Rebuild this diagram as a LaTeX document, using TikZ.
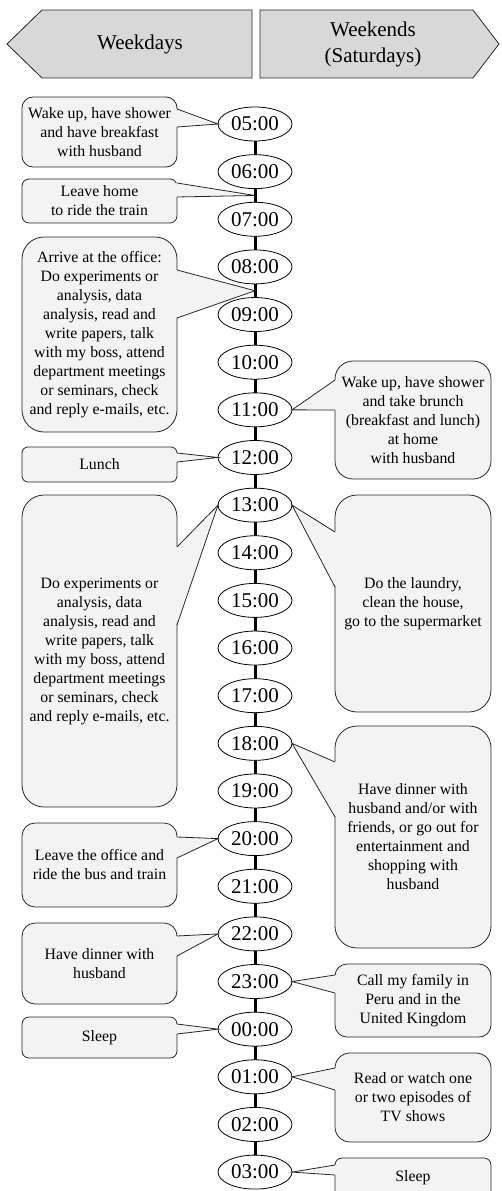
\documentclass[tikz,border=0pt]{standalone}
\usepackage{fontspec}
\setmainfont{Liberation Serif}
\usetikzlibrary{shapes.geometric,calc,backgrounds}
\definecolor{notegray}{RGB}{242,243,242}
\definecolor{headgray}{RGB}{216,216,216}
% tail of a callout: box corner, inward shift, top, bottom, target
\newcommand\calltail[5]{%
  \fill[notegray] ($(#1)+(#2,#3)$) -- (#5) -- ($(#1)+(#2,#4)$) -- cycle;
  \draw[tail] ($(#1)+(0,#3)$) -- (#5) -- ($(#1)+(0,#4)$);}

\begin{document}
\begin{tikzpicture}
  [x=1pt, y=-1pt,
   every node/.style={inner sep=0pt, outer sep=0pt},
   timebox/.style={draw, ellipse, fill=white, line width=0.8pt,
     minimum width=74pt, minimum height=34pt, font=\fontsize{21}{25}\selectfont},
   note/.style={draw=black!85, fill=notegray, line width=0.8pt, align=center,
     font=\fontsize{15.8}{19}\selectfont},
   weekday note/.style={note, minimum width=155pt},
   weekend note/.style={note, minimum width=156pt},
   tail/.style={draw=black!85, line width=0.8pt},
   head/.style={draw=black!85, fill=headgray, line width=0.8pt},
   headtext/.style={align=center, font=\fontsize{21}{26}\selectfont}]
  \useasboundingbox (0,0) rectangle (501,1191);

  \draw[head] (7,44) -- (42,10) -- (252,10) -- (252,78) -- (42,78) -- cycle;
  \draw[head] (260,10) -- (473,10) -- (499,44) -- (473,78) -- (260,78) -- cycle;
  \node[headtext] (weekdays) at (140,44) {Weekdays};
  \node[headtext] (weekends) at (373,44) {Weekends\\(Saturdays)};

  \foreach \h [count=\i from 0] in {05,06,07,08,09,10,11,12,13,14,15,16,17,18,19,20,21,22,23,00,01,02,03}
    \node[timebox] (t\h) at (255,{124+47.64*\i}) {\h:00};
  \begin{scope}[on background layer]
    \draw[line width=3pt] (t05.center) -- (t03.center);
  \end{scope}

  % weekdays
  \node[weekday note, minimum height=70pt, rounded corners=11pt] (wakeup) at (99.5,132)
    {Wake up, have shower\\and have breakfast\\with husband};
  \calltail{wakeup.north east}{-1}{12}{30}{t05.west}
  \node[weekday note, minimum height=44pt, rounded corners=7pt] (leave) at (99.5,201)
    {Leave home\\to ride the train};
  \calltail{leave.north east}{-1}{4}{18}{$(t06)!0.5!(t07)$}
  \node[weekday note, minimum height=195pt, rounded corners=22pt] (office) at (99.5,334.5)
    {Arrive at the office:\\Do experiments or\\analysis, data\\analysis, read and\\write papers, talk\\with my boss, attend\\department meetings\\or seminars, check\\and reply e-mails, etc.};
  \calltail{office.north east}{-1}{33}{81}{$(t08)!0.5!(t09)$}
  \node[weekday note, minimum height=35pt, rounded corners=6pt] (lunch) at (99.5,464.5) {Lunch};
  \calltail{lunch.north east}{-1}{6}{15}{t12.west}
  \node[weekday note, minimum height=312pt, rounded corners=22pt] (work) at (99.5,651)
    {Do experiments or\\analysis, data\\analysis, read and\\write papers, talk\\with my boss, attend\\department meetings\\or seminars, check\\and reply e-mails, etc.};
  \calltail{work.north east}{-1}{52}{130}{t13.west}
  \node[weekday note, minimum height=84pt, rounded corners=13pt] (home) at (99.5,865)
    {Leave the office and\\ride the bus and train};
  \calltail{home.north east}{-1}{14}{35}{t20.west}
  \node[weekday note, minimum height=81pt, rounded corners=13pt] (dinner) at (99.5,963.5)
    {Have dinner with\\husband};
  \calltail{dinner.north east}{-1}{13}{33}{t22.west}
  \node[weekday note, minimum height=41pt, rounded corners=7pt] (sleepwd) at (99.5,1037.5) {Sleep};
  \calltail{sleepwd.north east}{-1}{7}{17}{t00.west}

  % weekends
  \node[weekend note, minimum height=118pt, rounded corners=18pt] (brunch) at (413,420)
    {Wake up, have shower\\and take brunch\\(breakfast and lunch)\\at home\\with husband};
  \calltail{brunch.north west}{1}{19}{49}{t11.east}
  \node[weekend note, minimum height=217pt, rounded corners=22pt] (chores) at (413,603.5)
    {Do the laundry,\\clean the house,\\go to the supermarket};
  \calltail{chores.north west}{1}{37}{92}{t13.east}
  \node[weekend note, minimum height=222pt, rounded corners=22pt] (outing) at (413,837)
    {Have dinner with\\husband and/or with\\friends, or go out for\\entertainment and\\shopping with\\husband};
  \calltail{outing.north west}{1}{36}{91}{t18.east}
  \node[weekend note, minimum height=73pt, rounded corners=12pt] (family) at (413,1000.5)
    {Call my family in\\Peru and in the\\United Kingdom};
  \calltail{family.north west}{1}{11}{29}{t23.east}
  \node[weekend note, minimum height=89pt, rounded corners=15pt] (shows) at (413,1097.5)
    {Read or watch one\\or two episodes of\\TV shows};
  \calltail{shows.north west}{1}{15}{37}{t01.east}
  \node[weekend note, minimum height=40pt, rounded corners=7pt] (sleepwe) at (413,1178) {Sleep};
  \calltail{sleepwe.north west}{1}{7}{17}{t03.east}
\end{tikzpicture}
\end{document}
